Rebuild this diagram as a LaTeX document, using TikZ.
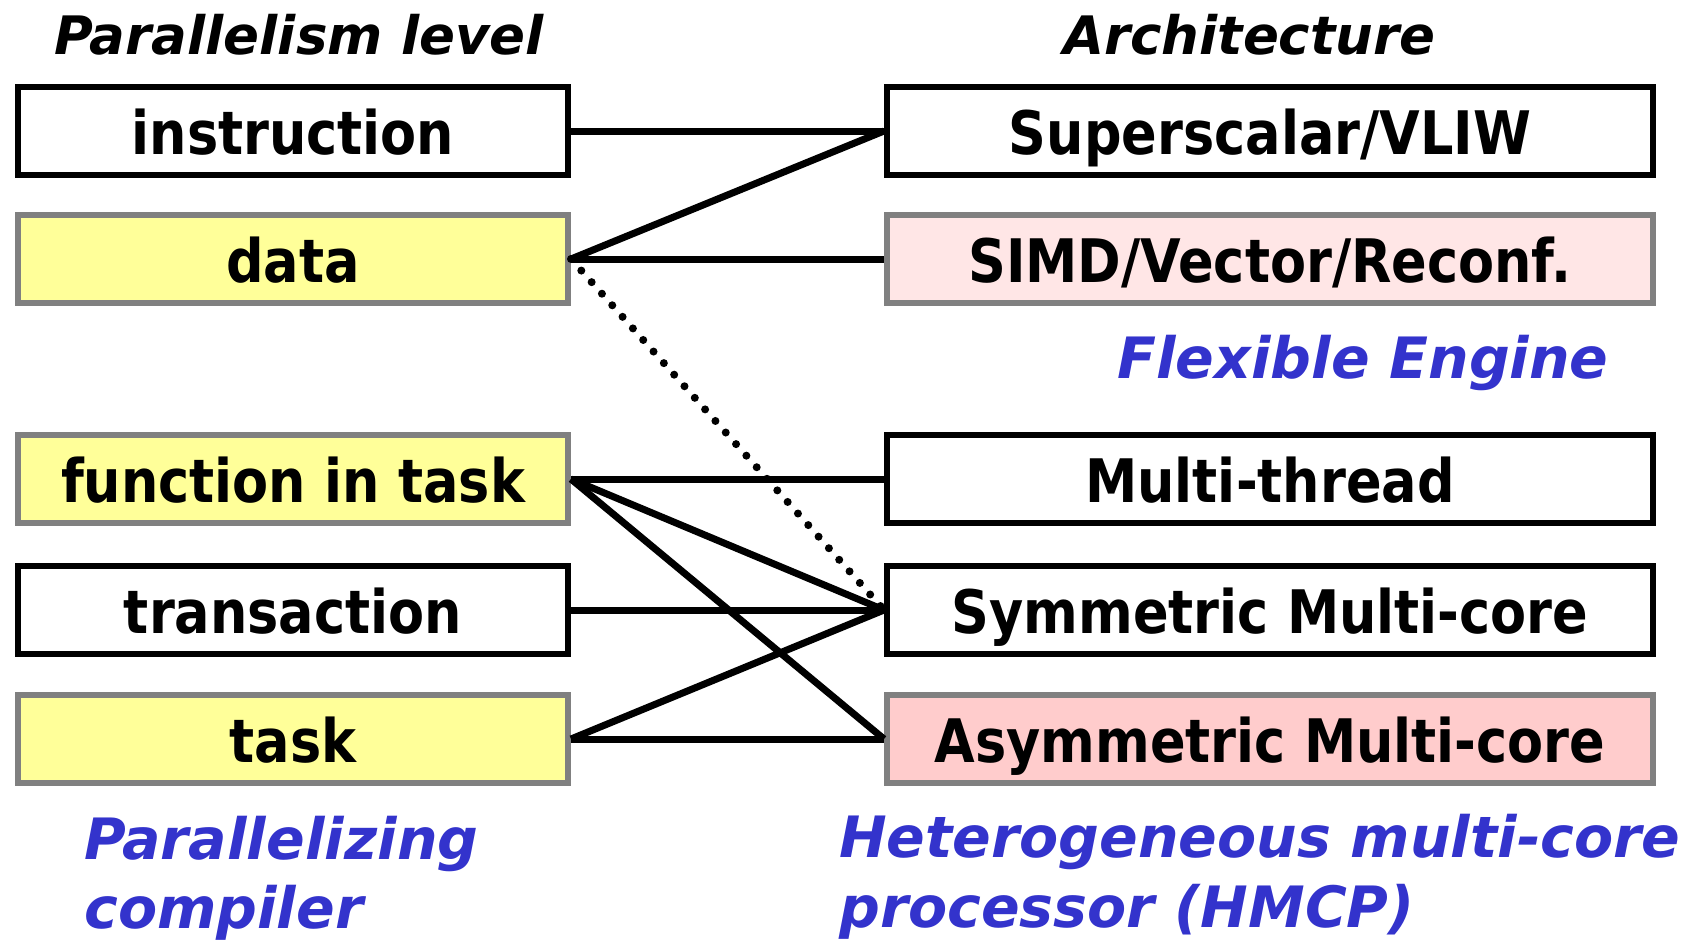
\documentclass[tikz,border=0pt]{standalone}
\usepackage{fontspec}
\setmainfont{DejaVu Sans}
\newfontfamily\boxfont[FakeStretch=0.875]{DejaVu Sans}
\definecolor{yel}{HTML}{FFFF99}
\definecolor{gborder}{HTML}{808080}
\definecolor{pinklight}{HTML}{FFE6E6}
\definecolor{pinkmid}{HTML}{FFCCCC}
\definecolor{noteblue}{HTML}{3333CC}
\begin{document}
\begin{tikzpicture}[x=1pt,y=-1pt,
  box/.style={draw, line width=6pt, minimum height=88pt, text height=46pt,
    text depth=0pt, inner sep=0pt, font=\boxfont\bfseries\fontsize{60}{72}\selectfont},
  lbox/.style={box, minimum width=550pt},
  rbox/.style={box, minimum width=766pt},
  plain/.style={draw=black, fill=white},
  hi/.style={draw=gborder, fill=yel},
  link/.style={line width=7pt},
  weak/.style={line width=8pt, line cap=round, dash pattern=on 0pt off 15.5pt},
  head/.style={font=\bfseries\itshape\fontsize{53}{63}\selectfont, anchor=base west, inner sep=0pt},
  note/.style={font=\bfseries\itshape\fontsize{57}{67}\selectfont, text=noteblue, anchor=base west, inner sep=0pt}]
\useasboundingbox (0,0) rectangle (1695,940);

% column headings
\node[head] (hpar) at (54,54) {Parallelism level};
\node[head] (harch) at (1063,54) {Architecture};

% parallelism levels
\node[lbox, plain] (instr) at (293,131) {instruction};
\node[lbox, hi]    (data)  at (293,259) {data};
\node[lbox, hi]    (func)  at (293,479) {function in task};
\node[lbox, plain] (trans) at (293,610) {transaction};
\node[lbox, hi]    (task)  at (293,739) {task};

% architectures
\node[rbox, plain] (sup)  at (1270,131) {Superscalar/VLIW};
\node[rbox, draw=gborder, fill=pinklight] (simd) at (1270,259) {SIMD/Vector/Reconf.};
\node[rbox, plain] (mt)   at (1270,479) {Multi-thread};
\node[rbox, plain] (sym)  at (1270,610) {Symmetric Multi-core};
\node[rbox, draw=gborder, fill=pinkmid] (asym) at (1270,739) {Asymmetric Multi-core};

% blue captions
\node[note] (flex) at (1117,378) {Flexible Engine};
\node[note] (pc1) at (84,859) {Parallelizing};
\node[note] (pc2) at (84,928) {compiler};
\node[note] (hm1) at (839,857) {Heterogeneous multi-core};
\node[note] (hm2) at (839,927) {processor (HMCP)};

% mappings
\draw[link] (instr.east) -- (sup.west);
\draw[link] (data.east) -- (sup.west);
\draw[link] (data.east) -- (simd.west);
\draw[weak] (data.east) -- (sym.west);
\draw[link] (func.east) -- (mt.west);
\draw[link] (func.east) -- (sym.west);
\draw[link] (func.east) -- (asym.west);
\draw[link] (trans.east) -- (sym.west);
\draw[link] (task.east) -- (sym.west);
\draw[link] (task.east) -- (asym.west);
\end{tikzpicture}
\end{document}
